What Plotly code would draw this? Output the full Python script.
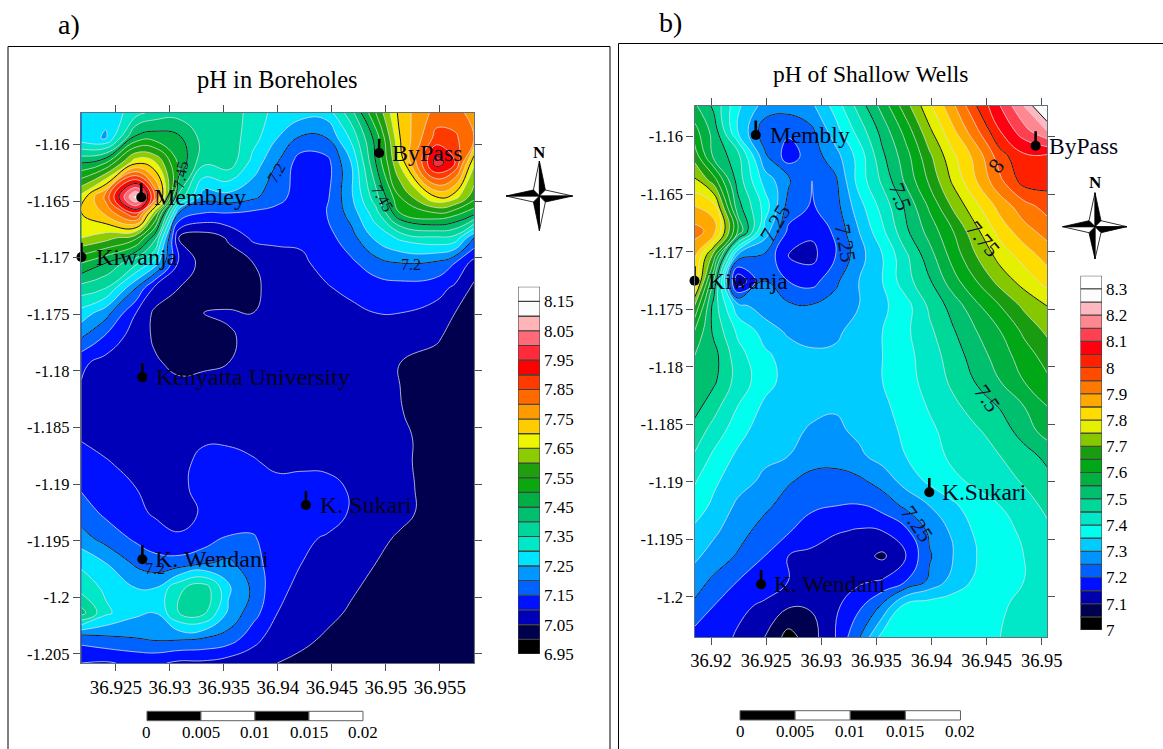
import plotly.graph_objects as go

W, H = 1163, 749
SERIF = "Liberation Serif"

# ---------- panel a: pH in Boreholes ----------
a_lon = [36.92180, 36.92406, 36.92686, 36.92858, 36.93084, 36.93313, 36.93540, 36.93769, 36.93995,
         36.94221, 36.94451, 36.94677, 36.94906, 36.95132, 36.95469, 36.95639, 36.95814]
a_lat = [-1.15722, -1.15943, -1.16163, -1.16464, -1.16605, -1.16826, -1.17047, -1.17268, -1.17488,
         -1.17709, -1.17930, -1.18151, -1.18372, -1.18593, -1.18813, -1.19034, -1.19255, -1.19476,
         -1.19697, -1.19918, -1.20138, -1.20359, -1.20580]
a_ph = [
 [7.28,7.26,7.33,7.37,7.38,7.38,7.38,7.33,7.28,7.27,7.27,7.38,7.55,7.72,7.82,7.82,7.78],
 [7.27,7.245,7.47,7.48,7.46,7.38,7.38,7.32,7.25,7.19,7.2,7.31,7.47,7.70,7.87,7.86,7.80],
 [7.45,7.50,7.69,7.66,7.49,7.36,7.38,7.28,7.2,7.12,7.13,7.25,7.45,7.66,7.98,7.90,7.66],
 [7.67,7.82,8.12,7.85,7.38,7.22,7.23,7.21,7.17,7.12,7.14,7.24,7.38,7.55,7.70,7.67,7.57],
 [7.70,7.76,7.9,7.62,7.2,7.15,7.15,7.14,7.13,7.12,7.15,7.22,7.33,7.5,7.55,7.52,7.47],
 [7.65,7.62,7.56,7.42,7.045,7.02,7.055,7.11,7.11,7.11,7.13,7.18,7.26,7.31,7.34,7.33,7.2],
 [7.5,7.45,7.36,7.28,7.09,7.03,7.03,7.05,7.08,7.09,7.12,7.14,7.18,7.2,7.19,7.15,7.08],
 [7.38,7.35,7.2,7.09,7.05,7.02,7.02,7.04,7.07,7.08,7.095,7.115,7.125,7.13,7.12,7.09,7.04],
 [7.28,7.22,7.10,7.04,7.02,7.05,7.055,7.05,7.07,7.08,7.08,7.085,7.1,7.1,7.08,7.05,7.03],
 [7.2,7.14,7.07,7.045,7.03,7.04,7.045,7.06,7.07,7.075,7.075,7.075,7.08,7.08,7.055,7.035,7.02],
 [7.11,7.08,7.06,7.055,7.04,7.045,7.05,7.06,7.065,7.07,7.07,7.07,7.065,7.05,7.035,7.025,7.01],
 [7.095,7.08,7.07,7.065,7.06,7.06,7.065,7.065,7.07,7.07,7.07,7.065,7.06,7.05,7.03,7.02,7.01],
 [7.1,7.08,7.07,7.07,7.07,7.07,7.07,7.07,7.07,7.07,7.07,7.07,7.065,7.052,7.03,7.02,7.01],
 [7.095,7.08,7.075,7.075,7.08,7.09,7.09,7.085,7.08,7.08,7.075,7.07,7.07,7.06,7.03,7.02,7.01],
 [7.13,7.105,7.08,7.07,7.08,7.12,7.12,7.105,7.09,7.095,7.09,7.075,7.07,7.06,7.03,7.02,7.01],
 [7.145,7.13,7.1,7.08,7.09,7.115,7.125,7.125,7.115,7.11,7.115,7.095,7.075,7.06,7.035,7.02,7.01],
 [7.175,7.14,7.11,7.095,7.085,7.105,7.12,7.125,7.12,7.12,7.125,7.095,7.08,7.06,7.035,7.02,7.01],
 [7.22,7.18,7.14,7.12,7.105,7.12,7.155,7.155,7.12,7.11,7.095,7.075,7.06,7.045,7.025,7.02,7.01],
 [7.29,7.25,7.19,7.17,7.17,7.195,7.21,7.17,7.12,7.1,7.08,7.065,7.05,7.03,7.02,7.015,7.01],
 [7.33,7.29,7.25,7.25,7.34,7.38,7.26,7.19,7.11,7.09,7.08,7.055,7.04,7.03,7.02,7.015,7.01],
 [7.42,7.31,7.26,7.25,7.35,7.36,7.24,7.17,7.1,7.085,7.06,7.045,7.03,7.025,7.02,7.015,7.01],
 [7.17,7.19,7.2,7.21,7.21,7.2,7.18,7.12,7.07,7.06,7.045,7.035,7.03,7.02,7.02,7.015,7.01],
 [7.1,7.095,7.11,7.11,7.09,7.09,7.075,7.065,7.05,7.04,7.03,7.025,7.02,7.02,7.015,7.01,7.01],
]
a_colors = ["#000000","#00004f","#0000b8","#0011ff","#0062ff","#0098ff","#00e5ff","#00e8c8","#00d59a",
            "#00c070","#00b045","#0ca70f","#1f9e10","#8ccc00","#eef500","#ffcc00","#ff9a00","#ff6a00",
            "#ff3a00","#ff0000","#ff2a3a","#ff6a78","#ffb4b8","#fbfbfb","#ffffff"]
a_band_floor = [6.95 + 0.05 * i for i in range(25)]
a_legend_ticks = [6.95,7.05,7.15,7.25,7.35,7.45,7.55,7.65,7.75,7.85,7.95,8.05,8.15]
a_legend_text = ["6.95","7.05","7.15","7.25","7.35","7.45","7.55","7.65","7.75","7.85","7.95","8.05","8.15"]
a_xticks = [36.925,36.93,36.935,36.94,36.945,36.95,36.955]
a_xtext = ["36.925","36.93","36.935","36.94","36.945","36.95","36.955"]
a_yticks = [-1.16,-1.165,-1.17,-1.175,-1.18,-1.185,-1.19,-1.195,-1.2,-1.205]
a_ytext = ["-1.16","-1.165","-1.17","-1.175","-1.18","-1.185","-1.19","-1.195","-1.2","-1.205"]
a_names = ["ByPass","Membley","Kiwanja","Kenyatta University","K. Sukari","K. Wendani"]
a_site_lon = [36.94937,36.92734,36.92180,36.92744,36.94259,36.92744]
a_site_lat = [-1.16075,-1.16466,-1.16994,-1.18057,-1.19185,-1.19664]
a_name_shift = [10.5,11,12.5,12,12,10.5]
a_lab_text = ["7.45","7.2","7.45","7.2","7.2"]
a_lab_lon = [36.93102,36.93978,36.94972,36.95229,36.92861]
a_lab_lat = [-1.16269,-1.16252,-1.16473,-1.17056,-1.19741]
a_lab_ang = [-80,-60,60,0,0]

# ---------- panel b: pH of Shallow Wells ----------
b_lon = [36.91850,36.92023,36.92242,36.92487,36.92701,36.92915,36.93129,36.93342,36.93556,36.93768,
         36.93983,36.94196,36.94410,36.94624,36.94837,36.95048]
b_lat = [-1.15733,-1.15950,-1.16168,-1.16385,-1.16603,-1.16820,-1.17037,-1.17255,-1.17472,-1.17690,
         -1.17907,-1.18124,-1.18342,-1.18559,-1.18777,-1.18994,-1.19211,-1.19429,-1.19646,-1.19863,
         -1.20081,-1.20350]
b_ph = [
 [7.56,7.49,7.36,7.28,7.27,7.29,7.37,7.47,7.57,7.68,7.79,7.89,8.0,8.1,8.2,8.33],
 [7.62,7.53,7.35,7.22,7.21,7.24,7.33,7.42,7.52,7.62,7.74,7.84,7.94,8.05,8.13,8.2],
 [7.68,7.54,7.47,7.26,7.175,7.225,7.28,7.37,7.49,7.58,7.69,7.79,7.87,7.98,8.04,8.04],
 [7.76,7.68,7.48,7.33,7.26,7.2,7.24,7.37,7.46,7.56,7.66,7.76,7.85,7.94,8.02,8.02],
 [7.85,7.82,7.52,7.38,7.23,7.195,7.23,7.33,7.42,7.51,7.61,7.71,7.79,7.87,7.93,7.97],
 [7.92,7.88,7.6,7.33,7.19,7.16,7.21,7.3,7.39,7.49,7.57,7.65,7.74,7.82,7.88,7.92],
 [7.86,7.68,7.28,7.24,7.15,7.135,7.2,7.28,7.35,7.44,7.53,7.62,7.7,7.77,7.82,7.87],
 [7.85,7.55,7.1,7.25,7.2,7.18,7.24,7.3,7.35,7.43,7.495,7.58,7.65,7.72,7.77,7.82],
 [7.7,7.48,7.32,7.27,7.26,7.255,7.27,7.3,7.34,7.38,7.46,7.52,7.59,7.65,7.71,7.75],
 [7.6,7.49,7.39,7.33,7.29,7.28,7.29,7.32,7.35,7.39,7.44,7.495,7.55,7.6,7.66,7.71],
 [7.55,7.52,7.42,7.36,7.33,7.31,7.31,7.32,7.35,7.385,7.425,7.475,7.525,7.575,7.625,7.67],
 [7.54,7.51,7.43,7.37,7.33,7.32,7.32,7.33,7.35,7.38,7.42,7.46,7.505,7.55,7.6,7.64],
 [7.52,7.47,7.4,7.34,7.32,7.31,7.305,7.32,7.34,7.37,7.405,7.44,7.47,7.505,7.55,7.6],
 [7.48,7.43,7.37,7.32,7.31,7.295,7.29,7.31,7.33,7.36,7.39,7.42,7.445,7.47,7.525,7.57],
 [7.445,7.39,7.34,7.31,7.3,7.27,7.27,7.29,7.32,7.35,7.38,7.41,7.43,7.45,7.475,7.515],
 [7.405,7.36,7.32,7.29,7.255,7.235,7.23,7.24,7.27,7.32,7.36,7.39,7.41,7.43,7.455,7.48],
 [7.375,7.34,7.29,7.26,7.23,7.21,7.2,7.195,7.22,7.26,7.3,7.34,7.38,7.4,7.43,7.46],
 [7.34,7.31,7.27,7.23,7.205,7.17,7.155,7.145,7.15,7.19,7.26,7.31,7.36,7.38,7.41,7.44],
 [7.31,7.28,7.245,7.2,7.15,7.14,7.12,7.12,7.09,7.15,7.245,7.3,7.35,7.38,7.4,7.43],
 [7.275,7.24,7.2,7.195,7.15,7.12,7.13,7.14,7.155,7.2,7.26,7.32,7.36,7.38,7.4,7.42],
 [7.24,7.2,7.17,7.135,7.105,7.105,7.14,7.19,7.26,7.37,7.38,7.38,7.385,7.39,7.42,7.43],
 [7.18,7.19,7.14,7.1,7.03,7.08,7.15,7.245,7.37,7.39,7.38,7.38,7.385,7.4,7.42,7.43],
]
b_colors = ["#000000","#000050","#0000b0","#0010ff","#0060ff","#0094ff","#00ccff","#00ffee","#00e8c8",
            "#00d898","#00c070","#00b040","#00a818","#1a9c10","#86c800","#e4f000","#ffdc00","#ffa800",
            "#ff7800","#ff4a00","#ff2000","#ff0010","#ff4050","#ff8890","#ffb8c0","#fcfcfc","#ffffff"]
b_band_floor = [7.0 + 0.05 * i for i in range(27)]
b_legend_ticks = [7.0,7.1,7.2,7.3,7.4,7.5,7.6,7.7,7.8,7.9,8.0,8.1,8.2,8.3]
b_legend_text = ["7","7.1","7.2","7.3","7.4","7.5","7.6","7.7","7.8","7.9","8","8.1","8.2","8.3"]
b_xticks = [36.92,36.925,36.93,36.935,36.94,36.945,36.95]
b_xtext = ["36.92","36.925","36.93","36.935","36.94","36.945","36.95"]
b_yticks = [-1.16,-1.165,-1.17,-1.175,-1.18,-1.185,-1.19,-1.195,-1.2]
b_ytext = ["-1.16","-1.165","-1.17","-1.175","-1.18","-1.185","-1.19","-1.195","-1.2"]
b_names = ["ByPass","Membly","Kiwanja","K.Sukari","K. Wendani"]
b_site_lon = [36.94945,36.92406,36.91850,36.93980,36.92454]
b_site_lat = [-1.16078,-1.15985,-1.17252,-1.19092,-1.19892]
b_name_shift = [11,12,11,11,11]
b_lab_text = ["7.25","7.25","7.5","7.75","8","7.5","7.25"]
b_lab_lon = [36.92588,36.93216,36.93713,36.94474,36.94584,36.94511,36.93877]
b_lab_lat = [-1.16750,-1.16924,-1.16524,-1.16890,-1.16246,-1.18272,-1.19368]
b_lab_ang = [-60,80,70,50,-50,55,55]

scale_steps = [0, 0.005, 0.01, 0.015, 0.02]
scale_text = ["0", "0.005", "0.01", "0.015", "0.02"]
a_scale_origin = 36.92787
b_scale_origin = 36.92263


def px(x):
    return x / W


def py(y):
    return 1 - y / H


def discrete(colors):
    n = len(colors)
    return [[i / (n - 1), c] for i, c in enumerate(colors)]


fig = go.Figure()
shapes, notes = [], []


def text(x, y, s, size, **kw):
    notes.append(dict(x=px(x), y=py(y), xref="paper", yref="paper", text=s, showarrow=False,
                      xanchor="center", yanchor="middle",
                      font=dict(family=SERIF, size=size, color="black"), **kw))


def panel(ax, lon, lat, z, colors, start, end, black_start, black_end, box, xr, yr,
          xt, xl, yt, yl, xsize):
    sx = "x" if ax == 1 else f"x{ax}"
    sy = "y" if ax == 1 else f"y{ax}"
    fig.add_trace(go.Contour(x=lon, y=lat, z=z, xaxis=sx, yaxis=sy, colorscale=discrete(colors),
                             autocontour=False, showscale=False, hoverinfo="skip",
                             contours=dict(start=start, end=end + 0.001, size=0.05, coloring="fill"),
                             line=dict(color="rgba(222,222,230,0.85)", width=0.9, smoothing=1.3)))
    fig.add_trace(go.Contour(x=lon, y=lat, z=z, xaxis=sx, yaxis=sy, showscale=False, autocontour=False,
                             hoverinfo="skip",
                             contours=dict(start=black_start, end=black_end + 0.001, size=0.25, coloring="none"),
                             line=dict(color="#101010", width=1.0, smoothing=1.3)))
    axis = dict(ticks="outside", ticklen=7, tickcolor="#505050", tickwidth=1, mirror="ticks", showline=True,
                linecolor="#5f7080", linewidth=1.2, showgrid=False, zeroline=False, tickmode="array",
                automargin=False)
    fig.update_layout({
        f"xaxis{'' if ax == 1 else ax}": dict(axis, domain=[px(box[0]), px(box[1])], range=xr, tickvals=xt,
                                              ticktext=xl, anchor=sy, tickfont=dict(family=SERIF, size=xsize, color="black")),
        f"yaxis{'' if ax == 1 else ax}": dict(axis, domain=[py(box[3]), py(box[2])], range=yr, tickvals=yt,
                                              ticktext=yl, anchor=sx, tickfont=dict(family=SERIF, size=16.5, color="black")),
    })
    return sx, sy


def sites(sx, sy, lon, lat, names, shift, size):
    stem_x, stem_y = [], []
    for a, b in zip(lon, lat):
        stem_x += [a, a, None]
        stem_y += [b, b + 0.00125, None]
    fig.add_trace(go.Scatter(x=stem_x, y=stem_y, xaxis=sx, yaxis=sy, mode="lines", cliponaxis=False,
                             line=dict(color="black", width=2.6), hoverinfo="skip"))
    fig.add_trace(go.Scatter(x=lon, y=lat, xaxis=sx, yaxis=sy, mode="markers", cliponaxis=False,
                             marker=dict(color="black", size=10), hoverinfo="skip"))
    for a, b, n, s in zip(lon, lat, names, shift):
        notes.append(dict(x=a, y=b, xref=sx, yref=sy, text=n, showarrow=False, xanchor="left", xshift=s,
                          font=dict(family=SERIF, size=size, color="#05051a")))


def contour_labels(sx, sy, lon, lat, labels, ang, size):
    for a, b, s, t in zip(lon, lat, labels, ang):
        notes.append(dict(x=a, y=b, xref=sx, yref=sy, text=s, textangle=t, showarrow=False,
                          font=dict(family=SERIF, size=size, color="#101030")))


def legend(ax, floors, colors, ticks, labels, box, yr):
    sx, sy = f"x{ax}", f"y{ax}"
    fig.add_trace(go.Bar(x=[1] * len(floors), y=[0.05] * len(floors), base=floors, width=1, xaxis=sx, yaxis=sy,
                         marker=dict(color=colors, line=dict(color="#404040", width=1.1)), hoverinfo="skip"))
    fig.update_layout({
        f"xaxis{ax}": dict(domain=[px(box[0]), px(box[1])], range=[0.5, 1.5], visible=False, anchor=sy, fixedrange=True,
                           automargin=False),
        f"yaxis{ax}": dict(domain=[py(box[3]), py(box[2])], range=yr, side="right", anchor=sx, showgrid=False,
                           zeroline=False, showline=False, ticks="", tickmode="array", tickvals=ticks, ticktext=labels,
                           automargin=False, ticklabelstandoff=3, tickfont=dict(family=SERIF, size=17, color="black")),
    })


def scale_bar(sx, origin, y0, y1, ylab):
    for i in range(4):
        shapes.append(dict(type="rect", xref=sx, yref="paper", x0=origin + scale_steps[i], x1=origin + scale_steps[i + 1],
                           y0=py(y1), y1=py(y0), fillcolor="black" if i % 2 == 0 else "white",
                           line=dict(color="#606060", width=1)))
    for s, t in zip(scale_steps, scale_text):
        notes.append(dict(x=origin + s, xref=sx, y=py(ylab), yref="paper", text=t, showarrow=False,
                          yanchor="middle", xanchor="center",
                          font=dict(family=SERIF, size=17, color="black")))


def tri(a, b, c, fill):
    path = f"M{px(a[0])},{py(a[1])} L{px(b[0])},{py(b[1])} L{px(c[0])},{py(c[1])} Z"
    shapes.append(dict(type="path", xref="paper", yref="paper", path=path, fillcolor=fill,
                       line=dict(color="black", width=0.8)))


def compass(cx, cy, top, bottom, left, right, ny):
    w = 6.0
    c = (cx, cy)
    tri((cx, top), (cx - w, cy - w), c, "white")
    tri((cx, top), (cx + w, cy - w), c, "black")
    tri((right, cy), (cx + w, cy - w), c, "white")
    tri((right, cy), (cx + w, cy + w), c, "black")
    tri((cx, bottom), (cx + w, cy + w), c, "white")
    tri((cx, bottom), (cx - w, cy + w), c, "black")
    tri((left, cy), (cx - w, cy + w), c, "white")
    tri((left, cy), (cx - w, cy - w), c, "black")
    notes.append(dict(x=px(cx), y=py(ny), xref="paper", yref="paper", text="<b>N</b>", showarrow=False,
                      xanchor="center", yanchor="middle",
                      font=dict(family=SERIF, size=17, color="black")))


# panel a
sx, sy = panel(1, a_lon, a_lat, a_ph, a_colors, 7.0, 8.15, 7.2, 8.2, (81, 474, 113, 663),
               [36.92176, 36.95815], [-1.2058, -1.15722], a_xticks, a_xtext, a_yticks, a_ytext, 19)
sites(sx, sy, a_site_lon, a_site_lat, a_names, a_name_shift, 24)
contour_labels(sx, sy, a_lab_lon, a_lab_lat, a_lab_text, a_lab_ang, 16)
legend(3, a_band_floor, a_colors, a_legend_ticks, a_legend_text, (518, 540, 286.7, 654), [6.95, 8.2])
scale_bar(sx, a_scale_origin, 711.3, 720.7, 732)
compass(539.4, 196, 161, 230.7, 506, 572.7, 152)

# panel b
sx, sy = panel(2, b_lon, b_lat, b_ph, b_colors, 7.05, 8.3, 7.25, 8.25, (694.5, 1047, 106, 637),
               [36.9185, 36.95048], [-1.2035, -1.15733], b_xticks, b_xtext, b_yticks, b_ytext, 18.5)
sites(sx, sy, b_site_lon, b_site_lat, b_names, b_name_shift, 23.5)
contour_labels(sx, sy, b_lab_lon, b_lab_lat, b_lab_text, b_lab_ang, 22)
legend(4, b_band_floor, b_colors, b_legend_ticks, b_legend_text, (1080.5, 1102, 275.7, 630), [7.0, 8.35])
scale_bar(sx, b_scale_origin, 710.7, 720, 731)
compass(1095, 226.7, 192.7, 259, 1062.5, 1127, 182.7)

# panel frames and captions
for x0, y0, x1, y1 in [(8, 46.5, 610, 46.5), (8, 46.5, 8, 749), (610, 46.5, 610, 749),
                       (618.5, 43.5, 1163, 43.5), (618.5, 43.5, 618.5, 749)]:
    shapes.append(dict(type="line", xref="paper", yref="paper", x0=px(x0), x1=px(x1), y0=py(y0), y1=py(y1),
                       line=dict(color="black", width=1)))
text(69, 24, "a)", 28)
text(670, 22, "b)", 28)
text(277.5, 80, "pH in Boreholes", 24.5)
text(870, 74, "pH of Shallow Wells", 23.5)

fig.update_layout(template="none", width=W, height=H, margin=dict(l=0, r=0, t=0, b=0, pad=0), autosize=False, showlegend=False,
                  paper_bgcolor="white", plot_bgcolor="white", shapes=shapes, annotations=notes,
                  barmode="overlay")
fig.write_html("out.html", config={"displayModeBar": False},
               post_script="document.body.style.margin='0';document.documentElement.style.overflow='hidden';")
